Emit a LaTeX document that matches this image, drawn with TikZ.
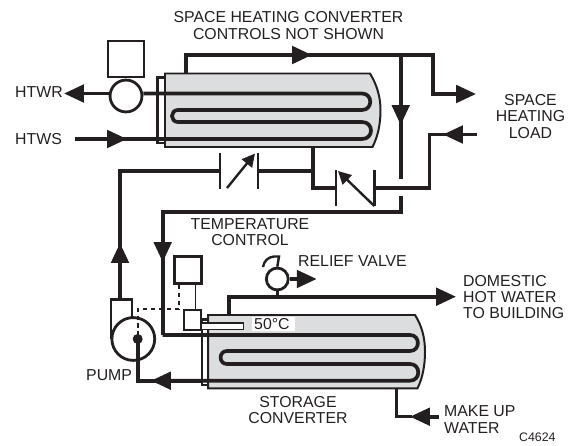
\documentclass[tikz,border=0pt]{standalone}
\usepackage{fontspec}
\setmainfont{Liberation Sans}
\usetikzlibrary{arrows.meta}
\definecolor{ink}{HTML}{231F20}
\definecolor{shell}{HTML}{DCDDDE}
\tikzset{
  pipe/.style={draw=ink,line width=3.7pt,line join=miter},
  thinp/.style={draw=ink,line width=2.4pt},
  thin1/.style={draw=ink,line width=1.5pt},
  dashp/.style={draw=ink,line width=2pt,dash pattern=on 4.5pt off 3.5pt},
  head/.style={draw=ink,line width=3.7pt,-{Triangle[length=20pt,width=17.5pt,fill=ink]}},
  headsm/.style={draw=ink,line width=2.4pt,-{Triangle[length=13pt,width=13pt,fill=ink]}},
  shellb/.style={draw=ink,line width=2pt,fill=shell},
  flange/.style={draw=ink,line width=2.4pt,fill=white},
  boxw/.style={draw=ink,line width=2.8pt,fill=white,inner sep=0pt},
  roundw/.style={draw=ink,line width=2.8pt,fill=white,circle,inner sep=0pt},
  lab/.style={align=center,font=\fontsize{15.9}{16.3}\selectfont,text=ink,inner sep=0pt},
  labl/.style={lab,align=left,anchor=west}
}
\begin{document}
\begin{tikzpicture}[x=1bp,y=-1bp]
\useasboundingbox (0,0) rectangle (568,446);
% upper converter
\draw[flange] (157.5,77.5) rectangle (165.5,143);
\draw[shellb] (165,73.5) -- (370,73.5) .. controls (377,85) and (380.5,97) .. (380.5,110) .. controls (380.5,124) and (378,136) .. (372.5,147) -- (165,147) -- cycle;
\node[boxw,minimum width=36pt,minimum height=36pt] (ctl) at (126,59) {};
\node[roundw,minimum size=32pt] (pumpA) at (126,96) {};
\coordinate (htwrTip) at (64,93.5);
\draw[head] (pumpA.west |- htwrTip) -- (htwrTip);
\draw[pipe] (pumpA.east |- htwrTip) -- (362,93.5) .. controls (373,93.5) and (373,110) .. (362,110) -- (178,110) .. controls (170,110) and (170,122) .. (178,122) -- (362,122) .. controls (374,122) and (374,139) .. (362,139) -- (109,139);
\coordinate (htwsA) at (75,139);
\draw[head] (htwsA) -- (127,139);
% supply from top
\coordinate (topA) at (186,73.5);
\coordinate (topB) at (186,55);
\coordinate (topJ) at (400.7,55);
\coordinate (topC) at (433,55);
\coordinate (topD) at (433,94);
\draw[pipe] (topA) -- (topB) -- (topC) -- (topD) -- (456,94);
\draw[head] (292,55) -- (312,55);
\draw[head] (topD) -- (476,94);
% bypass
\coordinate (byEnd) at (400.7,179);
\draw[pipe] (topJ) -- (byEnd);
\draw[head] (400.7,105) -- (400.7,125);
% return from load
\coordinate (retA) at (477,134.5);
\coordinate (retB) at (429.5,134.5);
\coordinate (retC) at (429.5,187.7);
\coordinate (v2R) at (374.3,187.7);
\coordinate (v2L) at (335.7,187.7);
\draw[pipe] (retA) -- (retB) -- (retC) -- (v2R);
\draw[head] (462,134.5) -- (443,134.5);
% valve 2
\coordinate (shOut) at (313.3,147);
\draw[pipe] (shOut) -- (313.3,187.7) -- (v2L);
\draw[thinp] (335.7,170.5) -- (335.7,206);
\draw[thinp] (374.3,170.5) -- (374.3,206);
\draw[headsm] (374.3,206) -- (338,171);
% valve 1
\coordinate (v1R) at (258,170.7);
\coordinate (v1L) at (220,170.7);
\draw[pipe] (313.3,170.7) -- (v1R);
\draw[thinp] (258,153) -- (258,189);
\draw[thinp] (220,153) -- (220,189);
\draw[headsm] (227,188) -- (255,153.5);
\draw[pipe] (v1L) -- (120,170.7) -- (120,300);
\draw[head] (120,263) -- (120,243);
% second branch
\coordinate (brTop) at (400.7,196);
\draw[pipe] (brTop) -- (400.7,211.7) -- (162.7,211.7) -- (162.7,335);
\draw[head] (162.7,241) -- (162.7,262);
% storage converter
\draw[flange] (202,319) rectangle (208.5,385);
\draw[shellb] (208,315) -- (415,315) .. controls (422,326) and (425,338) .. (425,351.7) .. controls (425,366) and (422.5,378) .. (417.5,388.3) -- (208,388.3) -- cycle;
% white label patch
\fill[white] (252,317) rectangle (295,331);
\draw[pipe] (162.7,335) -- (410,335) .. controls (420.5,335) and (420.5,351) .. (410,351) -- (227,351) .. controls (218.5,351) and (218.5,364) .. (227,364) -- (410,364) .. controls (421,364) and (421,380.7) .. (410,380.7) -- (166,380.7);
% sensor
\draw[thinp] (201,320) -- (209,320);
\draw[draw=ink,line width=1.6pt,fill=white] (201.5,323) rectangle (243.5,329.5);
% pump
\draw[thinp,fill=white] (111,339) -- (111,299.5) -- (131.7,299.5) -- (131.7,325);
\node[circle,draw=ink,line width=2.8pt,fill=white,minimum size=43pt,inner sep=0pt] (pump) at (133.3,339) {};
\fill[ink] (137.7,339) circle[radius=5];
\draw[pipe] (137.7,339) -- (137.7,380.7) -- (170,380.7);
\draw[pipe] (166,380.7) -- (203,380.7);
\draw[head] (168,380.7) -- (151,380.7);
% controller
\node[boxw,minimum width=27pt,minimum height=27pt] (tc) at (188,270.3) {};
\node[boxw,minimum width=17pt,minimum height=20pt] (act) at (192.5,320) {};
\draw[thin1] (195.7,284) -- (195.7,310);
\draw[dashp] (179.3,285) -- (179.3,309);
\draw[dashp] (179.3,309.3) -- (137.7,309.3) -- (137.7,335);
% relief valve
\coordinate (dhwA) at (229,315);
\coordinate (dhwB) at (229,296.7);
\draw[pipe] (dhwA) -- (dhwB) -- (436,296.7);
\draw[head] (dhwB) -- (456,296.7);
\node[roundw,minimum size=22pt] (rv) at (277.3,279) {};
\draw[thinp] (rv.south) -- (277.3,296.7);
\draw[head] (rv.east) -- (316.7,279);
\draw[thinp] (rv.north) -- (279,256.5) -- (274,256.5) .. controls (268,257) and (264,261) .. (263,267);
% make up
\coordinate (muA) at (396.7,388);
\coordinate (muB) at (396.7,416.7);
\draw[pipe,line width=3pt] (muA) -- (muB) -- (412,416.7);
\draw[head] (439,416.7) -- (410,416.7);
% labels
\node[lab] at (288.5,25.5) {SPACE HEATING CONVERTER\\CONTROLS NOT SHOWN};
\node[labl] at (15,92.5) {HTWR};
\node[labl] at (15,139.5) {HTWS};
\node[lab] at (530.5,116.5) {SPACE\\HEATING\\LOAD};
\node[lab] at (250,232) {TEMPERATURE\\CONTROL};
\node[labl] at (298,261.5) {RELIEF VALVE};
\node[lab,align=left,anchor=west] at (463,297) {DOMESTIC\\HOT WATER\\TO BUILDING};
\node[labl] at (254,324.5) {50°C};
\node[labl] at (86,375.5) {PUMP};
\node[lab] at (298,410) {STORAGE\\CONVERTER};
\node[lab,align=left,anchor=west] at (444,419.5) {MAKE UP\\WATER};
\node[labl,font=\fontsize{12.4}{13}\selectfont] at (519,437.5) {C4624};
\end{tikzpicture}
\end{document}
